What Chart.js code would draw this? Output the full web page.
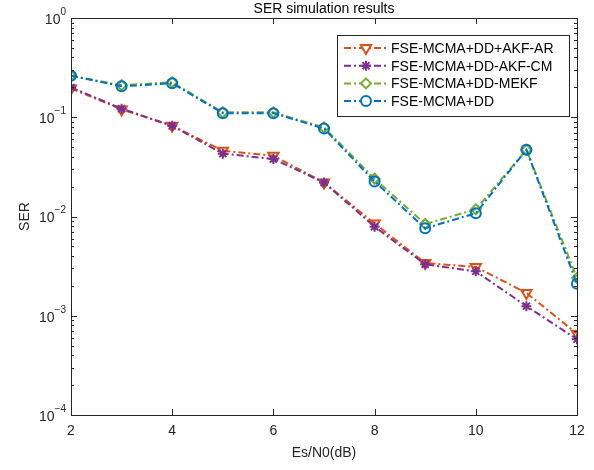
<!DOCTYPE html>
<html><head><meta charset="utf-8">
<script src="https://cdn.jsdelivr.net/npm/chart.js@4.4.0/dist/chart.umd.min.js"></script>
<style>html,body{margin:0;padding:0;background:#fff}#wrap{width:594px;height:470px}</style>
</head><body><div id="wrap"><canvas id="c" width="594" height="470"></canvas></div>
<script>
const snr = [2,3,4,5,6,7,8,9,10,11,12];
const serAR   = [0.195,0.120,0.082,0.046,0.041,0.022,0.0085,0.0034,0.0031,0.0017,0.00066];
const serCM   = [0.200,0.122,0.082,0.043,0.038,0.022,0.0079,0.0033,0.0028,0.00125,0.00058];
const serMEKF = [0.262,0.210,0.225,0.112,0.112,0.079,0.024,0.0084,0.0118,0.047,0.0024];
const serDD   = [0.262,0.205,0.220,0.110,0.110,0.077,0.0225,0.0076,0.0108,0.047,0.0021];
const names = ['FSE-MCMA+DD+AKF-AR','FSE-MCMA+DD-AKF-CM','FSE-MCMA+DD-MEKF','FSE-MCMA+DD'];
const xTicks = [2,4,6,8,10,12];
const yExps = [0,-1,-2,-3,-4];

const FONT = '"Liberation Sans", Arial, sans-serif';
const dashDot = [7,3,2,3];
function mk(label, data, color, style, rot, radius, order){
  return {label, data: snr.map((x,i)=>({x, y:data[i]})), borderColor: color, backgroundColor:'rgba(0,0,0,0)',
    borderWidth: 2, borderDash: dashDot, pointStyle: style, pointRotation: rot, pointRadius: radius,
    pointBorderWidth: 2, pointBorderColor: color, pointBackgroundColor:'rgba(0,0,0,0)', tension:0, order};
}
const sets = [
  mk(names[0], serAR, '#D95319', 'triangle', 180, 6, 4),
  mk(names[1], serCM, '#7E2F8E', 'star', 0, 5, 3),
  mk(names[2], serMEKF, '#77AC30', 'rectRot', 0, 5, 2),
  mk(names[3], serDD, '#0072BD', 'circle', 0, 5, 1),
];

const decor = {
  id:'decor',
  afterDraw(chart){
    const ctx = chart.ctx, a = chart.chartArea, xs = chart.scales.x, ys = chart.scales.y;
    ctx.save();
    ctx.strokeStyle = '#262626'; ctx.lineWidth = 1;
    ctx.strokeRect(Math.round(a.left)+0.5, Math.round(a.top)+0.5, Math.round(a.right-a.left), Math.round(a.bottom-a.top));
    ctx.beginPath();
    for (let e=-4; e<=0; e++){
      for (let m=1; m<=9; m++){
        const v = m*Math.pow(10,e);
        if (v>1) break;
        const py = Math.round(ys.getPixelForValue(v))+0.5;
        const L = m===1 ? 6 : 3;
        ctx.moveTo(a.left, py); ctx.lineTo(a.left+L, py);
        ctx.moveTo(a.right, py); ctx.lineTo(a.right-L, py);
      }
    }
    xTicks.forEach(x=>{
      const px = Math.round(xs.getPixelForValue(x))+0.5;
      ctx.moveTo(px, a.bottom); ctx.lineTo(px, a.bottom-6);
      ctx.moveTo(px, a.top); ctx.lineTo(px, a.top+6);
    });
    ctx.stroke();
    ctx.fillStyle = '#262626';
    yExps.forEach(e=>{
      const py = ys.getPixelForValue(Math.pow(10,e));
      const ex = String(e).replace('-', '\u2212');
      ctx.font = '10px ' + FONT;
      const ew = ctx.measureText(ex).width;
      ctx.font = '14px ' + FONT;
      const bw = ctx.measureText('10').width;
      const right = a.left - 5;
      ctx.textBaseline = 'middle'; ctx.textAlign = 'left';
      ctx.fillText('10', right - ew - bw, py+2);
      ctx.font = '10px ' + FONT;
      ctx.fillText(ex, right - ew, py-6);
    });
    ctx.font = '14px ' + FONT; ctx.textAlign='center'; ctx.textBaseline='middle';
    ctx.fillStyle = '#000';
    ctx.fillText('SER simulation results', (a.left+a.right)/2, 9);
    const lx = 337, ly = 35, lw = 232, lh = 81;
    ctx.fillStyle = '#fff'; ctx.fillRect(lx, ly, lw, lh);
    ctx.strokeStyle = '#262626'; ctx.lineWidth = 1;
    ctx.strokeRect(lx+0.5, ly+0.5, lw, lh);
    [0,1,2,3].forEach((i,k)=>{
      const ds = chart.data.datasets[i];
      const cy = ly + 13 + k*17.7;
      ctx.strokeStyle = ds.borderColor; ctx.lineWidth = 2; ctx.setLineDash(dashDot);
      ctx.beginPath(); ctx.moveTo(lx+7, cy); ctx.lineTo(lx+50, cy); ctx.stroke();
      ctx.setLineDash([]);
      ctx.fillStyle = '#fff';
      Chart.helpers.drawPoint(ctx, {pointStyle: ds.pointStyle, rotation: ds.pointRotation, radius: ds.pointRadius, borderWidth: 2}, lx+29, cy);
      ctx.fillStyle = '#000'; ctx.font = '14px ' + FONT; ctx.textAlign='left'; ctx.textBaseline='middle';
      ctx.fillText(ds.label, lx+54, cy+1);
    });
    ctx.restore();
  }
};

new Chart(document.getElementById('c'), {
  type: 'line',
  data: { datasets: sets },
  options: {
    responsive: false, animation: false,
    layout: { padding: { left: 0, right: 17, top: 18, bottom: 6 } },
    plugins: { legend: { display: false }, tooltip: { enabled: false }, title: { display: false } },
    scales: {
      x: { type: 'linear', min: 2, max: 12,
        afterBuildTicks(s){ s.ticks = xTicks.map(v=>({value:v})); },
        afterFit(s){ s.height = 49; },
        grid: { display: false, drawTicks: false }, border: { display: false },
        ticks: { color: '#262626', font: { family: FONT, size: 14 }, padding: 8, maxRotation: 0 },
        title: { display: true, text: 'Es/N0(dB)', color: '#262626', font: { family: FONT, size: 14 }, padding: { top: 2, bottom: 2 } } },
      y: { type: 'logarithmic', min: 1e-4, max: 1,
        afterBuildTicks(s){ s.ticks = yExps.map(e=>({value:Math.pow(10,e)})); },
        afterFit(s){ s.width = 71; },
        grid: { display: false, drawTicks: false }, border: { display: false },
        ticks: { callback: ()=>'' },
        title: { display: true, text: 'SER', color: '#262626', font: { family: FONT, size: 14 }, padding: { top: 17, bottom: 0 } } }
    }
  },
  plugins: [decor]
});
</script></body></html>
